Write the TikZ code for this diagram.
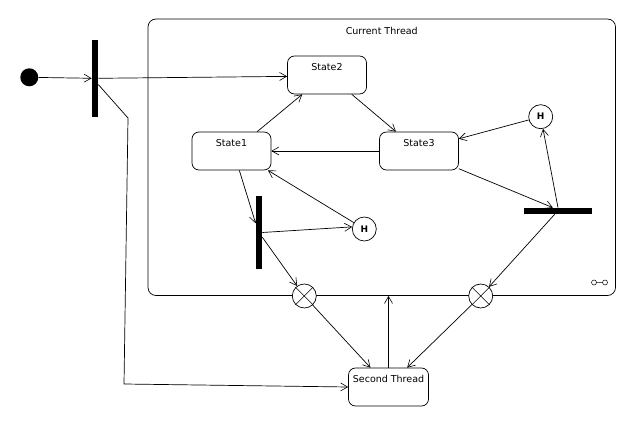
\documentclass[tikz,border=0pt]{standalone}
\usepackage{fontspec}
\setmainfont{DejaVu Sans}
\usetikzlibrary{arrows.meta,calc}
\begin{document}
\begin{tikzpicture}[x=1pt,y=-1pt,line width=0.7pt,
  every node/.style={font=\fontsize{9.5}{11}\selectfont},
  arr/.style={-{Straight Barb[length=7pt,width=8pt,line width=0.6pt]}},
  statebox/.style={draw,rounded corners=7pt,minimum width=79pt,minimum height=38pt,inner sep=0pt},
  toptext/.style={anchor=north,yshift=-7.5pt,inner sep=0pt},
  bar/.style={fill=black,draw=none,inner sep=0pt},
  hist/.style={draw,circle,minimum size=24pt,inner sep=0pt,font=\fontsize{9}{10}\selectfont\bfseries},
  xcirc/.style={draw,circle,minimum size=24pt,inner sep=0pt}]
\useasboundingbox (0,0) rectangle (636,427);
% container
\node[draw,rounded corners=8pt,minimum width=467.5pt,minimum height=276.5pt,inner sep=0pt,
  label={[toptext,yshift=-1pt]north:Current Thread}] (ct) at (381.75,157.25) {};
% initial, bars
\node[circle,fill=black,minimum size=18pt,inner sep=0pt] (init) at (29.3,77.3) {};
\node[bar,minimum width=6pt,minimum height=77pt] (bar1) at (95,78.3) {};
\node[bar,minimum width=6pt,minimum height=73pt] (bar2) at (259,232.5) {};
\node[bar,minimum width=68pt,minimum height=6pt] (bar3) at (558,211) {};
% states
\node[statebox,label={[toptext]north:State2}] (s2) at (327,75) {};
\node[statebox,label={[toptext]north:State1}] (s1) at (231.5,151) {};
\node[statebox,label={[toptext]north:State3}] (s3) at (419,151) {};
\node[statebox,minimum width=80pt,label={[toptext]north:Second Thread}] (sec) at (388.5,387) {};
% history
\node[hist] (h1) at (540.7,116.7) {H};
\node[hist] (h2) at (364.3,229) {H};
% exit points
\node[xcirc,fill=white] (xl) at (304.3,296) {};
\node[xcirc,fill=white] (xr) at (480.7,296) {};
\foreach \n in {xl,xr}{
  \draw[line width=0.5pt] (\n.45) -- (\n.225) (\n.135) -- (\n.315);
}
% decomposition icon
\draw[line width=0.5pt] (594,282.5) circle (2.5pt) (605,282.5) circle (2.5pt) (596.5,282.5) -- (602.5,282.5);
% connectors
\coordinate (c1) at (128,118);
\coordinate (c2) at (124,384);
\draw[arr] (init) -- (bar1.west);
\draw[arr] (bar1.east) -- (s2.182);
\draw[arr] (bar1.-62) -- (c1) -- (c2) -- (sec.west);
\draw[arr] (s1.37) -- (s2.218);
\draw[arr] (s2.322) -- (s3.140);
\draw[arr] (s3.west) -- (s1.east);
\draw[arr] (h1) -- (s3.17);
\draw[arr] (s3.-24) -- (bar3.147);
\draw[arr] (bar3.north) -- (h1);
\draw[arr] (h2) -- (s1.-28);
\draw[arr] (s1.-68) -- (bar2.110);
\draw[arr] (bar2.east) -- (h2.170);
\draw[arr] (bar2.-55) -- (xl);
\draw[arr] (bar3.225) -- (xr);
\draw[arr] (xl) -- (sec.133);
\draw[arr] (xr) -- (sec.46);
\draw[arr] (sec.north) -- (sec.north |- ct.south);
\end{tikzpicture}
\end{document}
